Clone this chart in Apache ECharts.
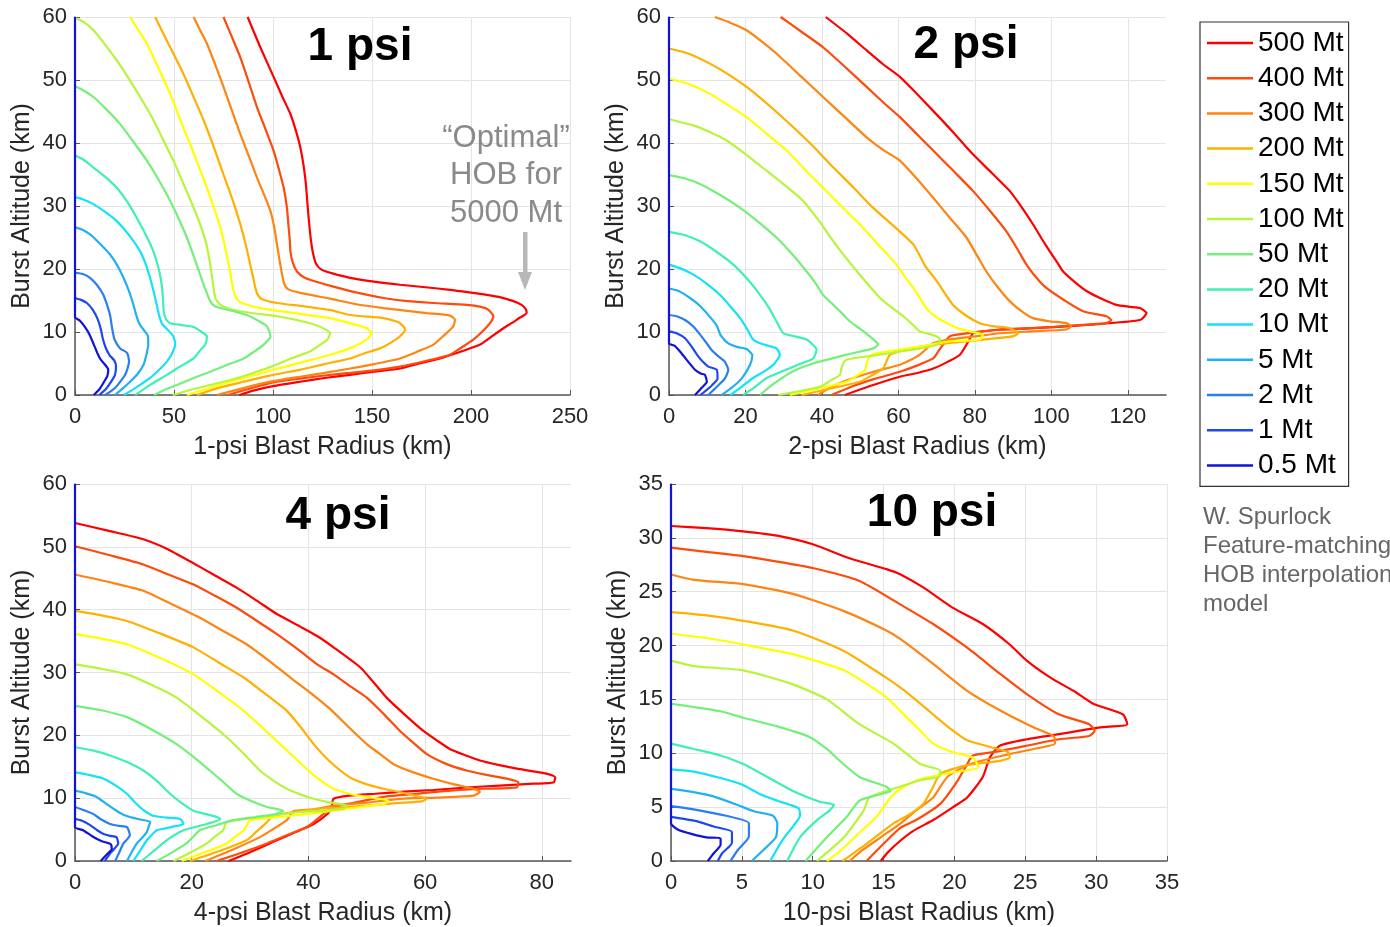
<!DOCTYPE html>
<html><head><meta charset="utf-8">
<script src="https://cdn.jsdelivr.net/npm/echarts@6/dist/echarts.min.js"></script>
<style>html,body{margin:0;padding:0;background:#fff}#c{width:1390px;height:927px}</style>
</head><body><div id="c"></div>
<script>
// ---------- categories ----------
const yields = ['500 Mt','400 Mt','300 Mt','200 Mt','150 Mt','100 Mt','50 Mt','20 Mt','10 Mt','5 Mt','2 Mt','1 Mt','0.5 Mt'];
const panelTitles = ['1 psi','2 psi','4 psi','10 psi'];
const xNames = ['1-psi Blast Radius (km)','2-psi Blast Radius (km)','4-psi Blast Radius (km)','10-psi Blast Radius (km)'];
const yName = 'Burst Altitude (km)';
// ---------- tick labels ----------
const xTicks1 = [0,50,100,150,200,250];
const xTicks2 = [0,20,40,60,80,100,120];
const xTicks4 = [0,20,40,60,80];
const xTicks10 = [0,5,10,15,20,25,30,35];
const yTicks60 = [0,10,20,30,40,50,60];
const yTicks35 = [0,5,10,15,20,25,30,35];
const xMax = [250,130,85,35];
const yMax = [60,60,60,35];

// ---------- 1 psi curves [radius km, altitude km] ----------
const psi1_500 = [[87.2,60],[90.5,57.5],[93.6,55.2],[97,52.8],[100.3,50.5],[104.5,47.5],[108.8,44.6],[111.5,42],[113.8,39.3],[115.5,36.3],[116.6,33.5],[117.5,30],[118.3,27.1],[119.2,24.5],[120.2,22.5],[121.8,20.8],[124.5,19.9],[130,19.3],[138.9,18.6],[151,18],[164.1,17.5],[177,17.1],[189.4,16.7],[199,16.3],[207.9,15.9],[215,15.5],[221.4,14.9],[225.5,14.3],[227.7,13.6],[228.1,13],[226.5,12.6],[224.8,12.3],[220.5,11.4],[216.4,10.6],[210,9.2],[204.6,8],[195,6.9],[184.4,5.8],[174,5],[164.1,4.2],[151,3.7],[138.9,3.2],[126,2.7],[113.6,2.1],[100,1.4],[90,0.7],[83,0]];
const psi1_400 = [[75,60],[79,57],[83.5,53.6],[87.8,49.6],[91.9,45.7],[96.2,42.2],[100.3,38.8],[103,35.8],[105.4,32.9],[107,29.8],[107.9,26.6],[108.5,24.5],[108.8,22.8],[110,21],[112.1,19.6],[116,18.6],[120.6,18.1],[130.5,17.2],[143,16.2],[155.8,15.4],[168,14.9],[181,14.6],[197.8,14.3],[205,14],[208.5,13.6],[211.3,12.5],[209.6,11.4],[205.5,10],[201.2,8.8],[195,7.5],[189.4,6.4],[177,5.4],[164.1,4.5],[151,3.9],[138.9,3.5],[126,3.1],[113.6,2.6],[100,2],[88,1],[77.2,0]];
const psi1_300 = [[59.9,60],[63,58],[66.6,55.8],[71,52.3],[75,48.9],[79.3,45.1],[83.5,41.4],[87.8,37.9],[91.9,34.5],[95.5,31.8],[98.7,29.2],[100.7,26.5],[102,23.9],[103.3,21.4],[104.6,19.1],[105.6,17.7],[107.5,16.8],[113.8,16.2],[128.7,15.3],[142,14.4],[155.8,13.8],[177.6,13],[189.4,12.6],[191.9,11.9],[191,10.9],[186.5,9.5],[181,8],[173,6.9],[164.1,5.8],[151,4.9],[138.9,4.2],[126,3.5],[113.6,2.9],[100,2.2],[85,1.1],[71.7,0]];
const psi1_200 = [[40.5,60],[45,57.1],[49.7,54.2],[55,50.8],[59.9,47.3],[64.3,44.1],[68.3,40.9],[72.5,37.2],[76.7,33.5],[80.3,30.3],[83.5,27.1],[86.2,23.9],[88.5,20.7],[90,18.6],[91.1,17],[92.3,15.9],[94.5,15.2],[102,14.6],[115,14.1],[128.7,13.5],[138.9,12.7],[155.8,12.2],[162,11.7],[164.1,11.4],[166.7,10.4],[164.1,9.3],[160,8.4],[154,7.4],[146,6.6],[138.9,5.8],[126,4.9],[113.6,4],[100,3.2],[85,2.1],[72,1.1],[61.6,0]];
const psi1_150 = [[27.8,60],[32,57.9],[36.3,55.8],[42,52],[48.1,47.8],[53,43.8],[58.2,39.8],[62.5,36.3],[66.6,32.9],[70.2,29.7],[73.4,26.6],[75.8,23.5],[77.6,20.7],[79,18.4],[80.1,16.5],[81.8,15.2],[84.3,14.6],[93.6,13.8],[110.5,13],[128.7,12.2],[138.9,11.4],[144.5,10.9],[147.3,10.6],[149.8,9.8],[147.3,8.8],[138.9,7.4],[130,6.5],[122,5.8],[113.6,5.1],[100,4],[85.2,2.7],[70,1.3],[56.5,0]];
const psi1_100 = [[0,59.9],[4.5,59.2],[9.3,57.9],[15,55.7],[21.1,53.1],[27,50.3],[32.9,47.3],[39,44],[44.7,40.4],[50,37],[54.8,33.5],[59.3,30.2],[63.2,27.1],[66.3,24],[68.3,20.7],[69.3,18.5],[70,17],[71,15.3],[73.4,14.3],[78,13.7],[83.5,13.3],[92,12.9],[102,12.5],[112,11.9],[120.6,11.2],[126,10.5],[128.8,9.8],[127.5,8.8],[123,7.8],[118.7,6.9],[110,5.9],[100,4.6],[90,3.5],[80,2.5],[68.3,1.6],[58,0.8],[49.4,0]];
const psi1_50 = [[0,49],[4.5,48.3],[9.3,47.3],[16,45.3],[22.8,43],[29.5,40.2],[36.3,37.2],[42.5,34],[48.1,30.8],[52.5,27.9],[56.5,25],[60,22],[63.2,19.1],[65.8,16.8],[68.3,14.9],[70.5,14.1],[73.4,13.8],[80,13.3],[86.8,12.7],[92.5,11.8],[97,10.9],[98.7,9.3],[95.3,8],[90.5,6.9],[85.2,5.8],[77,4.8],[68.3,3.7],[60,2.7],[51.4,1.6],[45,0.8],[40,0]];
const psi1_20 = [[0,38],[4.5,37.3],[9.3,36.1],[15,34.7],[21.1,32.9],[26.5,30.6],[31.2,28.1],[35.8,25.4],[39.6,22.8],[42.3,20],[43.8,17.5],[44.5,15],[44.8,13.3],[46,12],[48.1,11.4],[54,11.1],[59.9,10.8],[64,10],[66.6,9.3],[65.8,8],[63,7],[59.9,5.8],[53,4.5],[46.4,3.2],[38,1.6],[30.4,0]];
const psi1_10 = [[0,31.4],[4.5,31],[9.3,30.3],[15,29.1],[21.1,27.6],[27,25.5],[32.9,22.8],[35.8,20.7],[37.9,18.6],[39.8,16.3],[41.3,14.3],[42.5,12.6],[44,11.3],[47,10.3],[49.7,9.3],[50.6,8],[49,6.6],[46.4,5.3],[42.5,4],[37.9,2.7],[31,1.2],[24.8,0]];
const psi1_5 = [[0,26.6],[4,26.2],[7.6,25.5],[12,24.2],[17.7,22.3],[21.5,20.5],[24.5,18.6],[27.5,16.3],[29.5,14.3],[31,12.6],[32.5,11.3],[35,10.2],[36.8,9.4],[37,8],[36,6.3],[34.6,4.8],[31.5,3.3],[27.8,2.1],[24,1],[20.2,0]];
const psi1_2 = [[0,19.4],[4,19.2],[7.6,18.6],[11,17.5],[14.3,15.9],[16.5,14],[17.7,12.7],[18.8,10.5],[20,8.8],[22.8,7.4],[26.3,6.7],[27.3,5.3],[25.3,3.2],[20.2,1.1],[15.2,0]];
const psi1_1 = [[0,15.4],[3,15.1],[6,14.6],[9,13.5],[11.5,12],[13,10.5],[14,9],[15.5,7.5],[17.5,6.3],[19.8,5.5],[20.7,4.6],[20.2,3.2],[18,2],[15.5,0.9],[12.3,0]];
const psi1_05 = [[0,60],[0,12.4],[2.5,11.8],[5,10.8],[7.5,9.5],[9.5,8],[11.5,6.5],[13,5.6],[15.2,4.8],[16.8,4],[16.3,3],[14.5,2],[12.5,1],[9.5,0]];

// ---------- 2 psi curves ----------
const psi2_500 = [[41,60],[46.5,57.4],[51.7,54.7],[56,52.5],[60.4,50.5],[65,47.7],[69.1,45.1],[74.5,41.6],[79.5,38.2],[84.5,35.2],[89.1,32.4],[92.5,29.6],[95.2,27.1],[97.5,24.8],[99.6,22.8],[101.5,21.1],[103.1,19.6],[106,18],[109.2,16.5],[113,15.3],[117,14.3],[120.5,14],[123.2,13.8],[124.9,13],[123.2,11.9],[113,11.3],[103.9,10.9],[95,10.6],[86.5,10.4],[79.6,9.8],[78.3,8.5],[76.1,6.4],[73,5.3],[69.1,4.2],[65,3.5],[60.4,2.9],[53,1.5],[46,0]];
const psi2_400 = [[29.2,60],[35,57.5],[40.3,55.2],[46,52.1],[51.7,48.9],[56.5,46.2],[60.4,44.1],[65,41.3],[69.1,38.8],[74.5,35.5],[79.5,32.4],[84,29.2],[88.2,26],[91,23.3],[93.5,20.7],[96,18.7],[98.7,17],[103.5,15],[108.3,13.3],[114.4,12.5],[115.7,11.9],[114.4,11.4],[105,11],[95.2,10.6],[88,10.4],[82.1,10.1],[77,9.7],[73.4,9.3],[71.7,8],[70.4,6.9],[69.1,5.8],[65,4.7],[60.4,3.7],[54,2.6],[48,1.4],[42.5,0]];
const psi2_300 = [[12,60],[16,59.1],[20.3,57.9],[24.3,56.1],[28.1,54.2],[34.3,50.7],[40.3,47.3],[46,44.1],[51.7,40.9],[56,38.9],[60.4,37.2],[65,34.2],[69.1,31.3],[73.5,28.1],[77.8,25],[80.5,22.2],[83,19.6],[86,17.1],[89.1,14.9],[92,13.4],[95.2,12.2],[99.5,11.7],[103.9,11.4],[105.2,10.9],[103.9,10.4],[95,10.1],[86.5,9.8],[80,9.3],[73.4,8.8],[69.1,8.2],[65.6,6.4],[63,5.5],[60.4,4.8],[53,3.6],[46,2.2],[42,1.1],[39,0]];
const psi2_200 = [[0,55],[5,54.2],[10.7,52.6],[15.5,50.9],[20.3,48.9],[26.5,45.8],[32.5,42.5],[38,39.3],[43,36.1],[48.3,32.9],[53.4,29.7],[58.8,26.8],[63.9,23.9],[67,20.5],[70,18.1],[72.2,16.1],[74.3,14.3],[77.5,12.7],[81.3,11.4],[85,10.9],[89.1,10.6],[91.3,9.8],[89.9,9.3],[84,8.9],[77.8,8.5],[69.1,8],[62,7.2],[57.8,6.4],[56,4.2],[53,3.1],[49.9,2.1],[42,1],[34.7,0]];
const psi2_150 = [[0,50.2],[5,49.4],[10.7,47.8],[15.5,46],[20.3,44.1],[25.5,41.5],[30.8,38.8],[35.5,35.8],[40.3,32.9],[45,30],[49.9,27.1],[54.7,23.9],[59.5,20.7],[62,18.5],[64.5,16.5],[67.3,13.8],[70,12.3],[73.4,11.2],[76,10.5],[78.6,10.1],[82.1,9.6],[81.3,8.8],[77,8.6],[73.4,8.5],[65.6,7.7],[59,7.1],[53,6.4],[51.8,5.3],[51.3,4],[49,3],[46.4,2.1],[39,1],[31.6,0]];
const psi2_100 = [[0,43.8],[3,43.3],[6.4,42.8],[10.5,41.8],[15.1,40.4],[20.5,38],[25.5,35.6],[30.5,33.2],[35.1,30.8],[39.3,27.6],[43,24.4],[46.5,21.6],[49.9,19.1],[52.7,17.1],[55.2,15.4],[58.2,13.9],[61.3,12.5],[63.7,11.2],[65.6,10.1],[68,9.7],[70,9.3],[70.9,8.8],[70.3,8],[65,7.3],[60.4,6.9],[53,6.2],[46.4,5.6],[45.2,4.5],[44.7,3.2],[42,2.2],[39.5,1.3],[34,0.6],[28.6,0]];
const psi2_50 = [[0,34.9],[4,34.4],[8.1,33.5],[13.5,31.7],[18.6,29.7],[23.5,27.4],[28.1,25],[32.3,22.3],[36,19.6],[38.5,17.6],[40.3,15.9],[43,14.3],[45.2,13],[47.3,11.7],[50,10.5],[52.5,9.3],[54.7,8],[53.4,7.4],[50,6.9],[46.4,6.4],[42,5.7],[37.7,5],[34,4.2],[30.8,3.2],[27,1.6],[23.8,0]];
const psi2_20 = [[0,25.9],[4,25.4],[8.1,24.4],[12.5,22.7],[16.8,20.7],[20.5,18.4],[23.8,15.9],[26.2,13.8],[28.1,11.7],[29.9,9.8],[33,9.3],[36,8.8],[38.6,7.2],[37.7,5.8],[35,5.1],[32.5,4.5],[29,3.6],[25.5,2.7],[22.5,1.3],[19.4,0]];
const psi2_10 = [[0,20.7],[3,20.1],[6.4,19.1],[10,17.6],[13.3,15.9],[16,14.1],[18.6,12.2],[20.5,10.4],[22,8.8],[23.8,8.2],[26,7.8],[28.1,7.4],[29,6.4],[27.3,4.8],[24.8,3.7],[22,2.7],[19,1.3],[16.1,0]];
const psi2_5 = [[0,16.9],[2.5,16.5],[5.5,15.4],[8,14.2],[10.7,12.4],[12.5,11],[13.5,9.5],[15.5,8.2],[18,7.6],[20.3,7.3],[21.8,6.3],[21.2,4.8],[19,2.6],[16.5,1.2],[13.8,0]];
const psi2_2 = [[0,12.7],[2,12.5],[4.2,11.9],[6.5,10.8],[8.5,9.3],[10,8.1],[11.2,7.1],[13,6.1],[14.6,5.3],[15.5,4],[14.6,2.6],[12.5,1.3],[10.3,0]];
const psi2_1 = [[0,10.1],[2,9.8],[4.2,9],[6,7.6],[7.7,6.1],[9,5.2],[10.3,4.5],[12.5,4],[12.7,2.6],[11,1.4],[8.2,0]];
const psi2_05 = [[0,60],[0,8.2],[1.5,7.8],[3.3,6.6],[5,5.3],[6.8,4],[8.3,3.4],[9.4,3.2],[9.9,2.1],[8.5,1.1],[6.8,0]];

// ---------- 4 psi curves ----------
const psi4_500 = [[0,53.8],[6,52.5],[11.7,51.2],[15.7,49.7],[19.7,47.7],[23.7,45.6],[27.7,43.5],[31.2,41.4],[34.6,39.3],[38.6,37.3],[41.5,35.8],[44.3,34],[48.9,30.8],[51.2,28.4],[53.4,26],[56.5,23.3],[59.7,20.7],[62,19.2],[64.3,17.8],[67,16.8],[69.4,16],[72.5,15.3],[75.7,14.7],[78.3,14.3],[80.8,13.9],[82.3,13.3],[82,12.5],[78.6,12.3],[72.8,12],[67.1,11.7],[61.4,11.3],[55.7,11],[51.4,10.7],[47.1,10.4],[44.3,9.9],[44,8.6],[43.4,7.6],[40.9,5.9],[37.8,4.6],[34.6,3.3],[30.5,1.6],[26.3,0]];
const psi4_400 = [[0,50.1],[5.8,48.7],[11.7,47.2],[16,45.6],[20.3,44],[24,42.2],[27.7,40.3],[31.2,38.2],[34.6,36.1],[38.6,33.4],[41.5,31.3],[44.3,29.7],[47.2,27.8],[50,26],[53,23.3],[55.7,20.7],[58,18.8],[60.3,17],[63.5,15.5],[67.1,14.4],[70.5,13.7],[74,13.1],[76,12.5],[75.7,11.7],[70,11.5],[64.3,11.2],[58.5,10.7],[52.9,10.2],[48.5,9.4],[44.3,8.6],[42.6,7.5],[41.3,6.5],[39.7,5.4],[36.3,4.1],[32.9,2.8],[28.5,1.3],[24.3,0]];
const psi4_300 = [[0,45.6],[5.8,44.4],[11.7,43],[16.5,40.9],[21.4,38.7],[25.4,36.6],[29.4,34.5],[33.2,31.9],[36.9,29.2],[40.3,26.8],[43.7,24.2],[46.9,21.3],[50,18.6],[52.3,17],[54.6,15.4],[58,14.1],[61.4,13.1],[65,12.2],[68.3,11.5],[69.4,11],[68.3,10.4],[62,10.1],[55.7,9.9],[50,9.3],[44.3,8.8],[40.9,8.2],[37.4,7.9],[36.3,6.5],[34,5.1],[31.7,3.8],[27,1.8],[22.3,0]];
const psi4_200 = [[0,39.8],[4.5,39.1],[8.9,38.2],[14.6,36.2],[20.3,34],[24.6,31.6],[28.9,29.2],[32.6,26.6],[36.3,23.9],[38.6,21.4],[40.9,18.6],[43.5,16],[47.1,13.3],[50,12.2],[52.9,11.5],[55.5,11],[58.2,10.4],[60.3,9.9],[59.4,9.5],[55,9.2],[50,8.8],[45.5,8.5],[41.4,8.3],[37.5,7.8],[34,7.2],[32.6,5.9],[31,4.6],[29.4,3.3],[24.5,1.5],[19.7,0]];
const psi4_150 = [[0,36.1],[4.5,35.4],[8.9,34.5],[14.6,32.3],[20.3,29.7],[24.6,26.9],[28.9,23.9],[32.6,20.8],[36.3,17.6],[38.6,15.6],[41,13.6],[44.3,11.5],[47.5,10.6],[50,10.2],[53.7,9.6],[53.1,9.1],[48,8.5],[44.3,8],[37,7.2],[30,6.5],[29.4,5.6],[28.9,4.9],[27.5,3.9],[26,2.8],[22,1.3],[18.3,0]];
const psi4_100 = [[0,31.3],[4.5,30.6],[8.9,29.7],[13.2,28],[17.4,26],[21.8,22.9],[26,19.7],[29,17],[31.7,14.4],[34,12.8],[36.3,11.5],[38.6,10.6],[40.9,9.9],[43.2,9.4],[46.6,8.8],[46,8.3],[42,8],[38.6,7.8],[32,7],[26,6.2],[25.4,4.9],[24,3.9],[22.6,2.8],[19.7,1.3],[16.9,0]];
const psi4_50 = [[0,24.7],[4.5,24],[8.9,22.9],[13.2,20.9],[17.4,18.6],[20.4,16.5],[23.1,14.4],[25.5,12.5],[27.7,10.7],[30.3,9.5],[32.9,8.6],[35.7,8],[34.6,7.5],[31,7],[27.1,6.5],[24.2,5.7],[21.4,4.9],[20.3,3.9],[19.1,2.8],[16.5,1.3],[14,0]];
const psi4_20 = [[0,18.1],[3,17.6],[6,16.8],[9,15.7],[11.7,14.4],[14.2,12.6],[16.3,10.7],[18.3,9.2],[20.3,8],[22.3,7.5],[24.3,7],[24.9,6.7],[22.6,5.9],[20.5,5.4],[18.6,4.9],[17,4.1],[15.7,3.3],[13.5,1.6],[11.4,0]];
const psi4_10 = [[0,14.1],[2.4,13.7],[4.9,13.1],[7,12],[8.9,10.7],[10,9.6],[11.1,8.6],[12.2,7.8],[13.4,7.2],[15.7,6.9],[18,6.7],[18.6,5.9],[17,5.5],[15.5,5.2],[14,4.9],[13.1,4.1],[12.3,3.3],[11.2,1.7],[10,0]];
const psi4_5 = [[0,11.2],[1.8,10.8],[3.7,10.2],[5.5,9],[7.1,8],[8.2,7.4],[9.4,7],[11.2,6.6],[12.9,6.2],[12.6,5.4],[12.3,4.6],[11.5,3.7],[10.6,2.8],[9.7,1.4],[8.9,0]];
const psi4_2 = [[0,8.6],[1.5,8.1],[3.1,7.5],[4.5,6.6],[6,5.9],[7.5,5.6],[8.9,5.4],[9.4,4.1],[8.9,3.4],[8.3,2.8],[7.6,1.4],[6.9,0]];
const psi4_1 = [[0,6.7],[1.2,6.4],[2.6,5.7],[3.8,4.9],[4.9,4.3],[6,4],[7.1,3.8],[7.4,2.8],[6.6,1.8],[6,1.2],[5.1,0]];
const psi4_05 = [[0,60],[0,5.4],[1.4,4.9],[3,3.9],[4.5,3.2],[6.1,2.7],[6.3,1.9],[5.4,1],[4.4,0]];

// ---------- 10 psi curves ----------
const psi10_500 = [[0,31.1],[2.5,30.9],[5.1,30.6],[7.5,30.2],[10,29.4],[12.6,28.1],[15.2,27.1],[16.2,26.6],[17.8,25.4],[19.9,23.5],[22,22],[23.9,20.1],[25.1,18.6],[26.8,17],[28.4,15.8],[29.8,14.6],[31.9,13.6],[32.2,12.7],[30.3,12.4],[27.5,11.8],[25.1,11.3],[23.2,10.7],[22.5,9.6],[22,7.8],[20.9,5.9],[19.9,5],[18.5,3.8],[17.1,2.8],[16.2,1.9],[15.3,0.8],[14.8,0]];
const psi10_400 = [[0,29.1],[2.5,28.7],[5.1,28.3],[7.5,27.8],[10,27.2],[13.3,26],[16.2,23.8],[18.5,22],[20.9,19.8],[23.2,17.4],[25.1,15.5],[27.4,13.6],[29.5,12.7],[29.9,12.1],[29.5,11.6],[27.4,11.3],[23.2,10.2],[21.3,9.8],[20.9,9],[20.1,7.2],[19,5.3],[17.3,3.8],[16.2,3.1],[15,1.6],[13.8,0]];
const psi10_300 = [[0,26.6],[1.6,26.1],[5.1,25.7],[8.6,24.8],[12.2,23.2],[15.2,21.4],[16.2,20.6],[18.5,18.3],[20.9,15.8],[23.2,14],[25.6,12.4],[27,11.6],[27.1,10.9],[25.6,10.4],[23.8,9.9],[21.1,9],[19.5,7.8],[18.5,5.9],[17.3,4.7],[16.2,3.5],[14.8,2.2],[13.5,1],[12.6,0]];
const psi10_200 = [[0,23.1],[2.5,22.8],[5.1,22.3],[8.6,21.4],[12.2,19.5],[15.2,17],[16.5,15.8],[17.6,14.6],[18.5,13.6],[19.7,12.3],[20.9,11.2],[22.8,10.5],[23.8,10.1],[23.9,9.6],[23.2,9.3],[20.9,8.9],[19,8.1],[18.5,6.9],[17.8,5.3],[16.8,4.3],[15.7,3.5],[13.8,1.6],[12.1,0]];
const psi10_150 = [[0,21.1],[2.5,20.7],[5.1,20.1],[8.6,19.2],[12.2,17.7],[15.2,15.2],[16.5,13.5],[17.6,12.1],[18.5,10.9],[19.9,10.1],[21.3,9.6],[21.7,8.7],[19.8,8.2],[17.6,7.6],[16.3,6.8],[15.5,5.9],[14.5,4.1],[13.2,2.5],[12,1],[11,0]];
const psi10_100 = [[0,18.6],[1.6,18.1],[5.1,17.7],[8.6,16.4],[11,15],[13.3,12.7],[15.7,10.9],[17.6,9],[19,8.4],[19,7.9],[17.6,7.5],[15.7,6.7],[14,5.9],[13.6,4.7],[12.2,2.2],[10.3,0]];
const psi10_50 = [[0,14.6],[1.6,14.3],[3.5,13.9],[5.1,13.3],[7.5,12.5],[9.8,11.5],[11,10.4],[11.9,9.3],[13.3,7.8],[15.2,6.9],[15.5,6.5],[14.5,6.1],[13.3,5.6],[12.4,4.1],[11,2.2],[9.5,0]];
const psi10_20 = [[0,10.9],[1.6,10.4],[3.5,9.8],[5.1,9],[6.8,7.8],[8.6,6.5],[10.5,5.5],[11.5,5.2],[11.2,4.7],[10.3,3.8],[9.1,2.2],[8.2,0]];
const psi10_10 = [[0,8.5],[1.6,8.3],[3.5,7.7],[5,7.1],[6.3,6.2],[7.5,5.6],[9,4.9],[9.1,4.2],[8.6,3.2],[7.9,2],[7,0]];
const psi10_5 = [[0,6.7],[1.6,6.4],[3,6],[4.7,5.2],[5.9,4.6],[7.2,4.2],[7.5,3.5],[7.4,2.2],[6.5,1],[5.7,0]];
const psi10_2 = [[0,5.1],[1.6,4.8],[3.9,4.2],[5.5,3.5],[5.5,2.3],[4.7,1],[4.2,0]];
const psi10_1 = [[0,4.1],[1.8,3.7],[3,3.2],[4.3,2.7],[4.3,1.7],[3.6,0.7],[3.3,0]];
const psi10_05 = [[0,35],[0,3.5],[0.5,2.9],[1.5,2.5],[2.5,2.2],[3.5,2.1],[3.5,1.5],[3,0.7],[2.6,0]];

// ---------- styles ----------
const lineColors = ['#ff0000','#ff4a0a','#ff8412','#ffb000','#ffff00','#b8f53a','#74f07a','#3ef0b4','#14e2f6','#22b0f4','#2a7ef2','#1e48f0','#1212d8'];
const F = '"Liberation Sans", Arial, Helvetica, sans-serif';

const panelCurves = [
  [psi1_500,psi1_400,psi1_300,psi1_200,psi1_150,psi1_100,psi1_50,psi1_20,psi1_10,psi1_5,psi1_2,psi1_1,psi1_05],
  [psi2_500,psi2_400,psi2_300,psi2_200,psi2_150,psi2_100,psi2_50,psi2_20,psi2_10,psi2_5,psi2_2,psi2_1,psi2_05],
  [psi4_500,psi4_400,psi4_300,psi4_200,psi4_150,psi4_100,psi4_50,psi4_20,psi4_10,psi4_5,psi4_2,psi4_1,psi4_05],
  [psi10_500,psi10_400,psi10_300,psi10_200,psi10_150,psi10_100,psi10_50,psi10_20,psi10_10,psi10_5,psi10_2,psi10_1,psi10_05]
];
const xTickSets = [xTicks1, xTicks2, xTicks4, xTicks10];
const yTickSets = [yTicks60, yTicks60, yTicks60, yTicks35];

const grids = [
  {left:75, top:17, width:495, height:378},
  {left:669, top:17, width:497, height:378},
  {left:75, top:484, width:496, height:378},
  {left:671, top:484, width:496, height:378}
];

const axisColor = '#555';
const xAxes = grids.map((g,i)=>({
  type:'value', gridIndex:i, min:0, max:xMax[i], interval:xTickSets[i][1]-xTickSets[i][0],
  name:xNames[i], nameLocation:'middle', nameGap:40,
  nameTextStyle:{fontSize:25,color:'#262626',fontFamily:F},
  axisLine:{show:true,onZero:false,lineStyle:{color:axisColor,width:1.5}},
  axisTick:{show:true,inside:true,length:5,lineStyle:{color:axisColor},customValues:xTickSets[i]},
  axisLabel:{fontSize:22,color:'#262626',margin:11,fontFamily:F,customValues:xTickSets[i]},
  splitLine:{show:true,lineStyle:{color:'#e4e4e4',width:1}}
}));
const yAxes = grids.map((g,i)=>({
  type:'value', gridIndex:i, min:0, max:yMax[i], interval:yTickSets[i][1]-yTickSets[i][0],
  name:yName, nameLocation:'middle', nameGap:40, nameRotate:90,
  nameTextStyle:{fontSize:25,color:'#262626',fontFamily:F},
  axisLine:{show:true,onZero:false,lineStyle:{color:axisColor,width:1.5}},
  axisTick:{show:true,inside:true,length:5,lineStyle:{color:axisColor},customValues:yTickSets[i]},
  axisLabel:{fontSize:22,color:'#262626',margin:8,fontFamily:F,customValues:yTickSets[i]},
  splitLine:{show:true,lineStyle:{color:'#e4e4e4',width:1}}
}));

const series = [];
panelCurves.forEach((curves,gi)=>{
  curves.forEach((data,k)=>{
    series.push({
      type:'line', name:yields[k], xAxisIndex:gi, yAxisIndex:gi, data:data,
      showSymbol:false, symbol:'none', smooth:0.2, clip:false, animation:false,
      lineStyle:{width:2.2,color:lineColors[k]}, itemStyle:{color:lineColors[k]},
      emphasis:{disabled:true}, silent:true, z:2
    });
  });
});

const titlePos = [[360,47],[966,45],[338,516],[932,513]];
const graphics = panelTitles.map((t,i)=>({
  type:'text', x:titlePos[i][0], y:titlePos[i][1], silent:true, z:10,
  style:{text:t, fill:'#000', fontSize:46, fontWeight:'bold', fontFamily:F, align:'center', verticalAlign:'middle', textAlign:'center', textVerticalAlign:'middle'}
}));
const noteLines = ['\u201cOptimal\u201d','HOB for','5000 Mt'];
noteLines.forEach((t,i)=>graphics.push({
  type:'text', x:506, y:138+i*37.5, silent:true, z:10,
  style:{text:t, fill:'#8a8a8a', fontSize:31, fontFamily:F, align:'center', verticalAlign:'middle', textAlign:'center', textVerticalAlign:'middle'}
}));
graphics.push({type:'rect', shape:{x:523,y:232,width:4.5,height:42}, style:{fill:'#b8b8b8'}, silent:true, z:10});
graphics.push({type:'polygon', shape:{points:[[518,272],[532,272],[525,290]]}, style:{fill:'#b8b8b8'}, silent:true, z:10});
const creditLines = ['W. Spurlock','Feature-matching','HOB interpolation','model'];
creditLines.forEach((t,i)=>graphics.push({
  type:'text', x:1203, y:517+i*29, silent:true, z:10,
  style:{text:t, fill:'#666', fontSize:24, fontFamily:F, align:'left', verticalAlign:'middle', textAlign:'left', textVerticalAlign:'middle'}
}));

const chart = echarts.init(document.getElementById('c'), null, {renderer:'canvas'});
chart.setOption({
  animation:false,
  backgroundColor:'#fff',
  grid:grids.map(g=>Object.assign({containLabel:false},g)),
  xAxis:xAxes, yAxis:yAxes,
  legend:{
    orient:'vertical', left:1200, top:22, icon:'rect', itemWidth:46, itemHeight:2.5, itemGap:5.2,
    padding:[6,5,6,7], borderColor:'#333', borderWidth:1.2, backgroundColor:'#fff',
    textStyle:{fontSize:28, lineHeight:30, color:'#000', fontFamily:F}, data:yields, selectedMode:false
  },
  series:series,
  graphic:graphics
});
</script></body></html>
